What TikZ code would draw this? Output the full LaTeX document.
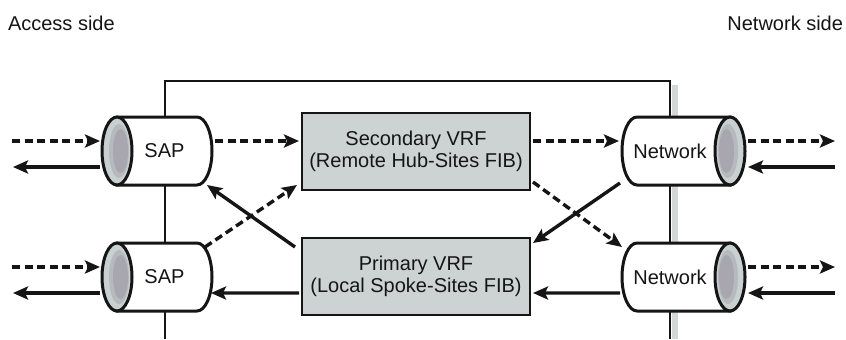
\documentclass[tikz,border=0pt]{standalone}
\usepackage{fontspec}
\setmainfont{Liberation Sans}
\usetikzlibrary{arrows.meta,calc}
\definecolor{boxgray}{HTML}{CDD3D3}
\definecolor{capouter}{HTML}{C9D0D0}
\definecolor{capmid}{HTML}{B6BABE}
\definecolor{capinner}{HTML}{A8A7B0}
\definecolor{shadowgray}{HTML}{D3D7D7}
\definecolor{inkc}{HTML}{151515}
\pgfdeclarelayer{bg}
\pgfsetlayers{bg,main}
\newcommand\sapcyl[1]{%
  \filldraw[cylline, fill=white] (#1.north west) -- ([xshift=-15bp]#1.north east)
     arc[start angle=90, end angle=-90, x radius=15bp, y radius=34bp] -- (#1.south west) -- cycle;
  \filldraw[cylline, fill=capouter] (#1.west) ellipse[x radius=15bp, y radius=34bp];
  \fill[capmid] ([xshift=2bp]#1.west) ellipse[x radius=10bp, y radius=27bp];
  \fill[capinner] ([xshift=3.5bp]#1.west) ellipse[x radius=7.5bp, y radius=22bp];
}
\newcommand\netcyl[1]{%
  \filldraw[cylline, fill=white] ([xshift=12bp]#1.north east) -- ([xshift=15bp]#1.north west)
     arc[start angle=90, end angle=270, x radius=15bp, y radius=34bp] -- ([xshift=12bp]#1.south east) -- cycle;
  \filldraw[cylline, fill=capouter] ([xshift=12bp]#1.east) ellipse[x radius=15bp, y radius=34bp];
  \fill[capmid] ([xshift=10bp]#1.east) ellipse[x radius=10bp, y radius=27bp];
  \fill[capinner] ([xshift=8.5bp]#1.east) ellipse[x radius=7.5bp, y radius=22bp];
}
\begin{document}
\begin{tikzpicture}[x=1bp,y=-1bp,
  txt/.style={font=\fontsize{20bp}{22bp}\selectfont, inner sep=0pt, outer sep=0pt, text=inkc},
  cylnode/.style={txt, minimum height=68bp, minimum width=#1},
  vrf/.style={txt, draw=inkc, line width=2.4bp, fill=boxgray, minimum width=228bp,
              minimum height=77bp, align=center},
  cylline/.style={line width=3bp, draw=inkc},
  solidarr/.style={line width=3.4bp, draw=inkc, -{Stealth[length=15bp,width=13bp,inset=3bp]}},
  dasharr/.style={solidarr, dash pattern=on 8bp off 4.5bp},
]
\useasboundingbox (0,0) rectangle (846,339);

% texts
\node[txt, anchor=base west] (acc) at (8,30) {Access side};
\node[txt, anchor=base east] (nets) at (843,30) {Network side};

% cylinder nodes
\node[cylnode=95bp] (sapA) at (164.5,151) {SAP};
\node[cylnode=95bp] (sapB) at (164.5,277) {SAP};
\node[cylnode=96bp] (netA) at (670,151) {Network};
\node[cylnode=96bp] (netB) at (670,277) {Network};

% VRF boxes
\node[vrf] (sec) at (416,151.5) {Secondary VRF\\(Remote Hub-Sites FIB)};
\node[vrf] (prim) at (416,276.5) {Primary VRF\\(Local Spoke-Sites FIB)};

\begin{pgfonlayer}{bg}
  \fill[white] (0,0) rectangle (846,339);
  \fill[shadowgray] (672,85) rectangle (677.5,339);
  \draw[line width=2.4bp, draw=inkc] (165,339) -- (165,81) -- (670,81) -- (670,339);
  \sapcyl{sapA}
  \sapcyl{sapB}
  \netcyl{netA}
  \netcyl{netB}
\end{pgfonlayer}

% free ends
\coordinate (inA) at (12,141);
\coordinate (outA) at (13,167);
\coordinate (inB) at (12,267);
\coordinate (outB) at (13,293);
\coordinate (outNA) at (835,141);
\coordinate (inNA) at (835,167);
\coordinate (outNB) at (835,267);
\coordinate (inNB) at (835,293);

% top row
\draw[dasharr] (inA) -- ($(sapA.west)+(-17,-10)$);
\draw[solidarr] ($(sapA.west)+(-17,16)$) -- (outA);
\draw[dasharr] ($(sapA.east)+(3,-10)$) -- ($(sec.west)+(-3,-10.5)$);
\draw[dasharr] ($(sec.east)+(3,-10.5)$) -- ($(netA.west)+(-3,-10)$);
\draw[dasharr] ($(netA.east)+(30,-10)$) -- (outNA);
\draw[solidarr] (inNA) -- ($(netA.east)+(30,16)$);

% bottom row
\draw[dasharr] (inB) -- ($(sapB.west)+(-17,-10)$);
\draw[solidarr] ($(sapB.west)+(-17,16)$) -- (outB);
\draw[solidarr] ($(prim.west)+(-3,16.5)$) -- ($(sapB.east)+(-1,16)$);
\draw[solidarr] ($(netB.west)+(-2,16)$) -- ($(prim.east)+(3,16.5)$);
\draw[dasharr] ($(netB.east)+(30,-10)$) -- (outNB);
\draw[solidarr] (inNB) -- ($(netB.east)+(30,16)$);

% diagonals
\draw[solidarr] ($(prim.north west)+(-7,9)$) -- ($(sapA.south east)+(-5,0)$);
\draw[dasharr] ($(sapB.north east)+(-7,4)$) -- ($(sec.south west)+(-5,-5)$);
\draw[dasharr] ($(sec.south east)+(3,-8)$) -- ($(netB.north west)+(0,4)$);
\draw[solidarr] ($(netA.south west)+(-2,-2)$) -- ($(prim.north east)+(3,5)$);
\end{tikzpicture}
\end{document}
